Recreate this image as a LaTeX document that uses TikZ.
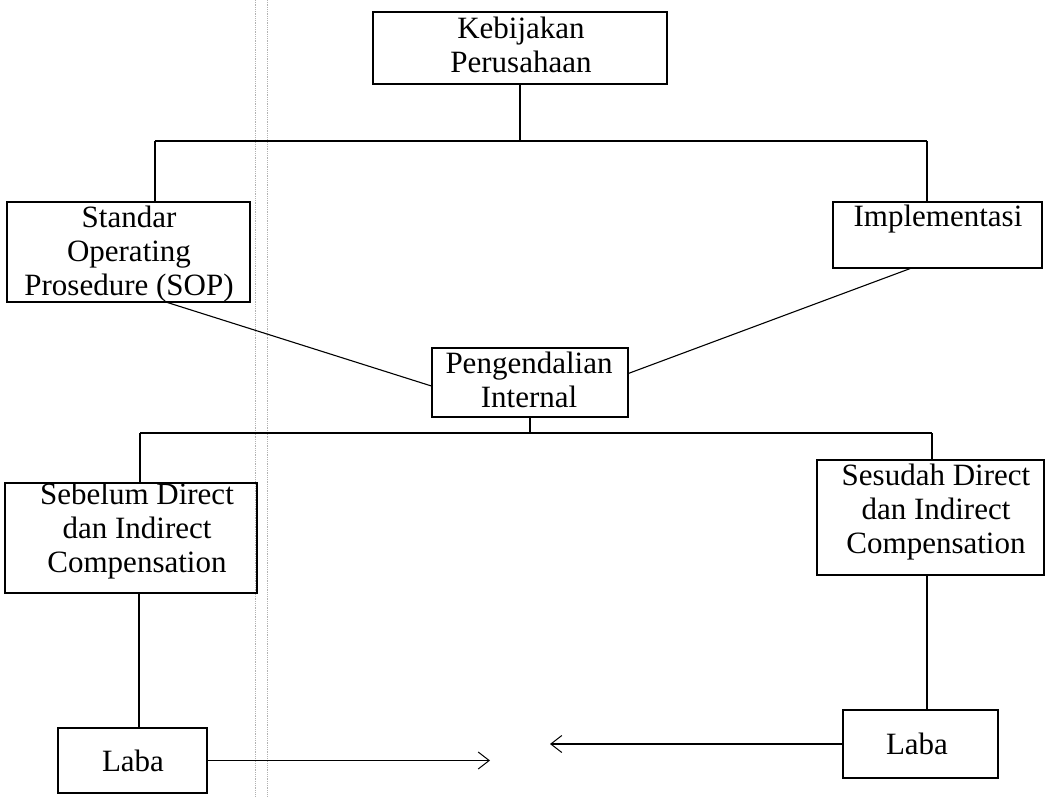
\documentclass[tikz,border=0pt]{standalone}
\usepackage{fontspec}
\setmainfont{Liberation Serif}
\usetikzlibrary{calc,arrows.meta}
\begin{document}
\begin{tikzpicture}[x=1pt,y=-1pt,
  box/.style={draw=black,line width=1.1pt,inner sep=0pt,minimum width=#1},
  txt/.style={inner sep=0pt,align=center,font=\fontsize{31}{34}\selectfont},
  conn/.style={draw=black,line width=1.1pt},
  tip/.style={-{Straight Barb[length=11pt,width=17pt,line width=1pt]}},
  scan/.style={draw=gray!60,densely dotted,line width=0.8pt}]
\useasboundingbox (0,0) rectangle (1046,796);
% scan marks
\draw[scan] (255,0) -- (255,796);
\draw[scan] (267,0) -- (267,796);
% boxes
\node[box=294pt,minimum height=72pt] (keb) at (520,48) {};
\node[box=243pt,minimum height=100pt] (sop) at (128.5,252) {};
\node[box=209pt,minimum height=66pt] (impl) at (937.5,235) {};
\node[box=196pt,minimum height=69pt] (peng) at (530,382.5) {};
\node[box=252pt,minimum height=110pt] (seb) at (131,538) {};
\node[box=227pt,minimum height=115pt] (ses) at (930.5,517.5) {};
\node[box=149pt,minimum height=65pt] (labaL) at (132.5,760.5) {};
\node[box=155pt,minimum height=68pt] (labaR) at (920.5,744) {};
% texts
\node[txt] (kebt) at (521,45) {Kebijakan\\Perusahaan};
\node[txt] (sopt) at (129,254) {Standar\\Operating\\Prosedure (SOP)};
\node[txt] (implt) at (938,219) {Implementasi};
\node[txt] (pengt) at (529,380) {Pengendalian\\Internal};
\node[txt] (sebt) at (137,531) {Sebelum Direct\\dan Indirect\\Compensation};
\node[txt] (sest) at (936,512) {Sesudah Direct\\dan Indirect\\Compensation};
\node[txt] (labaLt) at (133,761) {Laba};
\node[txt] (labaRt) at (917,744) {Laba};
% upper bus
\coordinate (busL) at (155,141);
\coordinate (busR) at (927,141);
\draw[conn] (keb.south) -- (keb.south |- busL);
\draw[conn] (busL) -- (busR);
\draw[conn] (busL) -- (busL |- sop.north);
\draw[conn] (busR) -- (busR |- impl.north);
% diagonals into Pengendalian
\draw[conn] ($(sop.south west)!0.66!(sop.south east)$) -- ($(peng.north west)!0.55!(peng.south west)$);
\draw[conn] ($(impl.south west)!0.37!(impl.south east)$) -- ($(peng.north east)!0.37!(peng.south east)$);
% lower bus
\coordinate (bus2L) at (140,433);
\coordinate (bus2R) at (932,433);
\draw[conn] (peng.south) -- (peng.south |- bus2L);
\draw[conn] (bus2L) -- (bus2R);
\draw[conn] (bus2L) -- (bus2L |- seb.north);
\draw[conn] (bus2R) -- (bus2R |- ses.north);
% down to Laba
\coordinate (sebd) at (139,0);
\draw[conn] (sebd |- seb.south) -- (sebd |- labaL.north);
\coordinate (sesd) at (927,0);
\draw[conn] (sesd |- ses.south) -- (sesd |- labaR.north);
% arrows
\coordinate (tipL) at (490,0);
\coordinate (tipR) at (550,0);
\draw[conn,tip] (labaL.east) -- (tipL |- labaL.east);
\draw[conn,tip] (labaR.west) -- (tipR |- labaR.west);
\end{tikzpicture}
\end{document}
